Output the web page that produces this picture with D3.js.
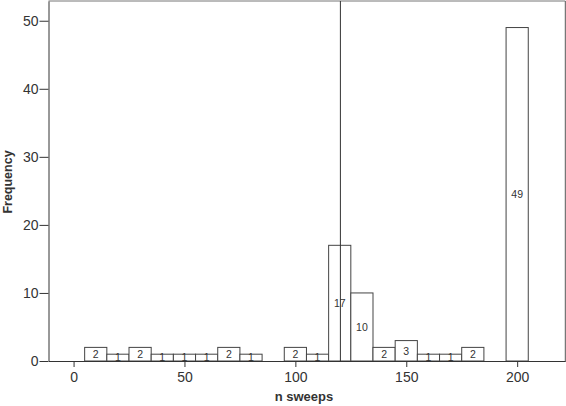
<!DOCTYPE html>
<html>
<head>
<meta charset="utf-8">
<script src="https://cdn.jsdelivr.net/npm/d3@7"></script>
<style>
  html, body { margin: 0; padding: 0; background: #fff; }
  svg { display: block; }
  text { font-family: "Liberation Sans", Arial, sans-serif; }
</style>
</head>
<body>
<svg id="chart" width="566" height="406"></svg>
<script>
// Histogram bins (centres, n sweeps) and frequencies
const binCenters = [10, 20, 30, 40, 50, 60, 70, 80, 90, 100, 110, 120, 130, 140, 150, 160, 170, 180, 190, 200];
const frequencies = [2, 1, 2, 1, 1, 1, 2, 1, 0, 2, 1, 17, 10, 2, 3, 1, 1, 2, 0, 49];
const binWidth = 10;
const referenceLine = 120.3;
const xTicks = [0, 50, 100, 150, 200];
const yTicks = [0, 10, 20, 30, 40, 50];
const xTitle = "n sweeps";
const yTitle = "Frequency";

const svg = d3.select("#chart");
const pLeft = 48.5, pRight = 565.3, pTop = 1, pBottom = 361;

const x = d3.scaleLinear().domain([-11.3, 221.7]).range([pLeft, pRight]);
const y = d3.scaleLinear().domain([0, 52.9]).range([pBottom, pTop]);

// frame (top & right)
svg.append("line").attr("x1", pLeft).attr("x2", pRight).attr("y1", pTop).attr("y2", pTop)
  .attr("stroke", "#777").attr("stroke-width", 1);
svg.append("line").attr("x1", pRight).attr("x2", pRight).attr("y1", pTop).attr("y2", pBottom)
  .attr("stroke", "#555").attr("stroke-width", 1);

const data = binCenters.map((c, i) => ({ c, f: frequencies[i] })).filter(d => d.f > 0);

// bars
svg.append("g").selectAll("rect").data(data).join("rect")
  .attr("x", d => x(d.c - binWidth / 2))
  .attr("width", d => x(d.c + binWidth / 2) - x(d.c - binWidth / 2))
  .attr("y", d => y(d.f))
  .attr("height", d => y(0) - y(d.f))
  .attr("fill", "#fff")
  .attr("stroke", "#444")
  .attr("stroke-width", 1);

// bar labels
svg.append("g").selectAll("text").data(data).join("text")
  .attr("x", d => x(d.c))
  .attr("y", d => (y(d.f) + y(0)) / 2)
  .attr("dy", "0.36em")
  .attr("text-anchor", "middle")
  .attr("font-size", 10.5)
  .attr("fill", "#333")
  .text(d => d.f);

// reference line
svg.append("line")
  .attr("x1", x(referenceLine)).attr("x2", x(referenceLine))
  .attr("y1", pTop).attr("y2", pBottom)
  .attr("stroke", "#333").attr("stroke-width", 1);

// axes
const xAxis = svg.append("g").attr("transform", `translate(0,${pBottom})`)
  .call(d3.axisBottom(x).tickValues(xTicks).tickSize(6).tickSizeOuter(0).tickPadding(5));
const yAxis = svg.append("g").attr("transform", `translate(${pLeft},0)`)
  .call(d3.axisLeft(y).tickValues(yTicks).tickSize(9).tickSizeOuter(0).tickPadding(1));

[xAxis, yAxis].forEach(g => {
  g.select(".domain").attr("stroke", "#333");
  g.selectAll(".tick line").attr("stroke", "#333");
  g.selectAll(".tick text").attr("font-size", 14).attr("fill", "#333")
    .attr("font-family", "'Liberation Sans', Arial, sans-serif");
});

// titles
svg.append("text")
  .attr("x", (pLeft + pRight) / 2 - 3).attr("y", 401)
  .attr("text-anchor", "middle")
  .attr("font-size", 13).attr("font-weight", "bold").attr("fill", "#333")
  .text(xTitle);

svg.append("text")
  .attr("transform", "translate(12,182) rotate(-90)")
  .attr("text-anchor", "middle")
  .attr("font-size", 12.5).attr("font-weight", "bold").attr("fill", "#333")
  .text(yTitle);
</script>
</body>
</html>
